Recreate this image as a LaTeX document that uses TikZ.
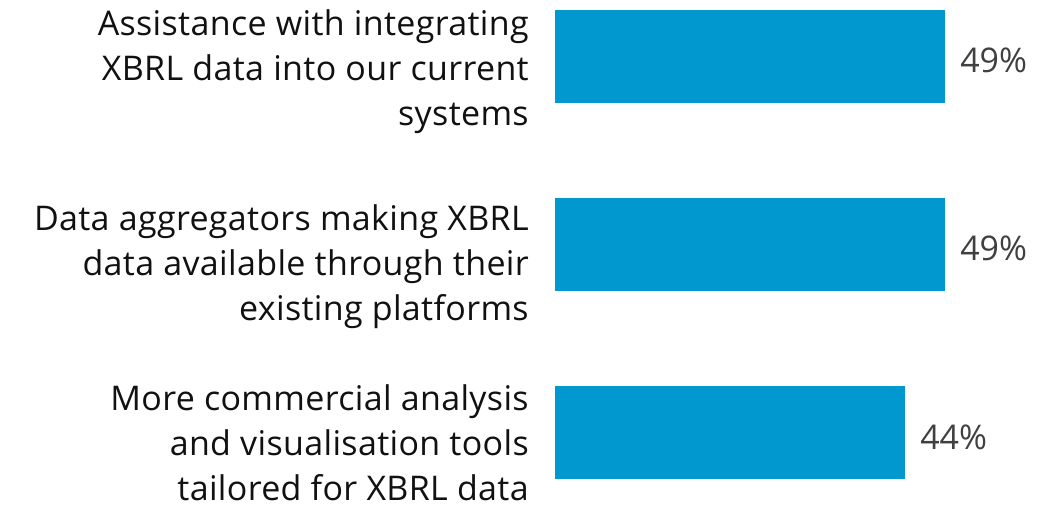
\documentclass[tikz,border=0pt]{standalone}
\usepackage{fontspec}
\setmainfont{Open Sans}
\newfontfamily\labfont[LetterSpace=1.0]{Open Sans}
\definecolor{barblue}{HTML}{0098CF}
\definecolor{labtext}{HTML}{111111}
\definecolor{pcttext}{HTML}{404040}
\begin{document}
\begin{tikzpicture}[x=0.75pt,y=-0.75pt,
  bar/.style={fill=barblue,draw=none},
  lab/.style={align=right,anchor=base east,inner sep=0pt,text=labtext,
    font=\labfont\fontsize{25.5}{33.5}\selectfont},
  pct/.style={anchor=base west,inner sep=0pt,text=pcttext,
    font=\fontsize{25.5}{33.5}\selectfont}]
\useasboundingbox (0,0) rectangle (1046,504);
\fill[white] (0,0) rectangle (1046,504);
% bars
\path[bar] (555,10) rectangle (945,103) node[pos=0.5] (b1) {};
\path[bar] (555,198) rectangle (945,291) node[pos=0.5] (b2) {};
\path[bar] (555,386) rectangle (905,479) node[pos=0.5] (b3) {};
% percentages
\node[pct] (p1) at (960,72.7) {49\%};
\node[pct] (p2) at (960,260.7) {49\%};
\node[pct] (p3) at (920,449) {44\%};
% labels (anchored at the baseline of their last line)
\node[lab] (l1) at (529,125) {Assistance with integrating\\XBRL data into our current\\systems};
\node[lab] (l2) at (529,320) {Data aggregators making XBRL\\data available through their\\existing platforms};
\node[lab] (l3) at (529,500) {More commercial analysis\\and visualisation tools\\tailored for XBRL data};
\end{tikzpicture}
\end{document}
